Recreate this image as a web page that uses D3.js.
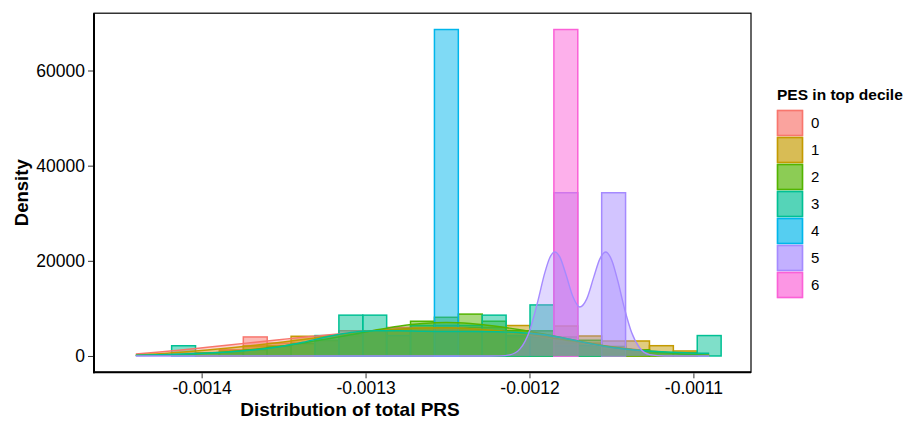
<!DOCTYPE html>
<html><head><meta charset="utf-8">
<script src="https://cdn.jsdelivr.net/npm/d3@7"></script>
<style>body{margin:0;background:#fff} text{font-family:"Liberation Sans",Arial,Helvetica,sans-serif}</style>
</head><body><svg id="chart" width="910" height="421"></svg>
<script>
// ---- data ----
const groups = ["0","1","2","3","4","5","6"];
const colors = ["#F8766D","#C49A00","#53B400","#00C094","#00B6EB","#A58AFF","#FB61D7"];
const binWidth = 0.000014574;
const binCenters = [-0.00144015,-0.00142558,-0.00141100,-0.00139643,-0.00138185,-0.00136728,-0.00135271,
  -0.00133813,-0.00132356,-0.00130898,-0.00129441,-0.00127984,-0.00126526,-0.00125069,-0.00123611,
  -0.00122154,-0.00120697,-0.00119239,-0.00117782,-0.00116324,-0.00114867,-0.00113410,-0.00111952,
  -0.00110495,-0.00109037];
// histogram densities per bin
const hist0 = [0,0,0,0,1300,4000,2700,2700,4000,5300,5300,6000,5300,5300,5300,5300,4000,4000,2700,2700,1300,1300,0,0,0];
const hist1 = [0,0,0,650,1050,2100,2100,4140,3150,4200,5250,5600,6000,6000,6000,6000,6400,5250,6300,4200,3150,3150,2160,1050,0];
const hist2 = [0,0,0,650,650,1300,2000,2600,3300,4600,5300,5300,7300,8130,8800,7300,5300,5300,4000,3300,2000,1300,650,650,0];
const hist3 = [0,0,2150,0,0,0,0,0,4290,8580,8580,4290,6430,6430,6430,8580,4290,10730,2150,2150,0,0,0,0,4290];
const hist4 = [0,0,0,0,0,0,0,0,0,0,0,0,0,68615,0,0,0,0,0,0,0,0,0,0,0];
const hist5 = [0,0,0,0,0,0,0,0,0,0,0,0,0,0,0,0,0,0,34308,0,34308,0,0,0,0];
const hist6 = [0,0,0,0,0,0,0,0,0,0,0,0,0,0,0,0,0,0,68615,0,0,0,0,0,0];
// density curves (evaluated at the bin centres)
const dens0 = [420,840,1315,1840,2365,2890,3415,3940,4410,4885,5360,5730,5940,5940,5730,5310,4730,4045,3260,2470,1785,1210,740,370,145];
const dens1 = [210,475,840,1260,1735,2260,2835,3465,4095,4730,5260,5625,5885,5940,5730,5360,4835,4150,3360,2575,1895,1315,840,475,215];
const dens2 = [75,160,315,580,950,1420,2000,2730,3570,4465,5415,6255,6830,7040,6830,6305,5570,4675,3675,2680,1840,1210,740,370,160];
const dens3 = [160,265,425,635,895,1315,1945,2890,4045,4940,5310,5310,5205,5150,5150,5100,4945,4520,3675,2625,1735,1210,895,685,580];
// group 5 density (bimodal) on its own grid
const dens5X = [-0.00144015,-0.00122421,-0.00121811,-0.00121201,-0.00120591,-0.00119982,-0.00119494,-0.00119067,
  -0.00118762,-0.00118457,-0.00118152,-0.00117787,-0.00117360,-0.00116933,-0.00116506,-0.00116079,-0.00115713,
  -0.00115348,-0.00114982,-0.00114616,-0.00114189,-0.00113762,-0.00113274,-0.00112665,-0.00111750,-0.00109037];
const dens5 = [0,0,30,240,1440,5430,11470,17460,20650,21870,20820,17280,12550,10290,12010,16570,20360,21870,20120,15830,9770,4860,1670,290,5,0];
const xTicks = [-0.0014,-0.0013,-0.0012,-0.0011];
const xTickLabels = ["-0.0014","-0.0013","-0.0012","-0.0011"];
const yTicks = [0,20000,40000,60000];
const yTickLabels = ["0","20000","40000","60000"];
const xTitle = "Distribution of total PRS";
const yTitle = "Density";
const legendTitle = "PES in top decile";

// ---- layout ----
const svg = d3.select("#chart");
const P = {l:94, r:751, t:13.2, b:372.3};
const hists = [hist0,hist1,hist2,hist3,hist4,hist5,hist6];
const xLo = binCenters[0]-binWidth/2, xHi = binCenters[binCenters.length-1]+binWidth/2;
const xPad = 0.05*(xHi-xLo);
const x = d3.scaleLinear().domain([xLo-xPad, xHi+xPad]).range([P.l, P.r]);
const yMax = d3.max(hists.concat([dens0,dens1,dens2,dens3,dens5]).flat());
const y = d3.scaleLinear().domain([-0.05*yMax, 1.05*yMax]).range([P.b, P.t]);

const plot = svg.append("g");
plot.append("rect").attr("x",P.l).attr("y",P.t).attr("width",P.r-P.l).attr("height",P.b-P.t).attr("fill","#fff");

// histograms
hists.forEach((h,gi)=>{
  plot.append("g").selectAll("rect").data(h.map((v,i)=>({c:binCenters[i],v}))).join("rect")
    .attr("x",d=>x(d.c-binWidth/2)).attr("width",d=>x(d.c+binWidth/2)-x(d.c-binWidth/2))
    .attr("y",d=>y(d.v)).attr("height",d=>y(0)-y(d.v))
    .attr("fill",colors[gi]).attr("fill-opacity",0.5)
    .attr("stroke",colors[gi]).attr("stroke-width",1.5);
});

// densities
const densList = [[binCenters,dens0,0],[binCenters,dens1,1],[binCenters,dens2,2],[binCenters,dens3,3],[dens5X,dens5,5]];
densList.forEach(([xs,ys,gi])=>{
  const pts = xs.map((v,i)=>[v,ys[i]]);
  const area = d3.area().x(d=>x(d[0])).y0(y(0)).y1(d=>y(d[1])).curve(d3.curveMonotoneX);
  const line = d3.line().x(d=>x(d[0])).y(d=>y(d[1])).curve(d3.curveMonotoneX);
  plot.append("path").attr("d",area(pts)).attr("fill",colors[gi]).attr("fill-opacity",0.33).attr("stroke","none");
  plot.append("path").attr("d",line(pts)).attr("fill","none").attr("stroke",colors[gi]).attr("stroke-width",1.4);
});

// panel border
svg.append("rect").attr("x",P.l).attr("y",P.t).attr("width",P.r-P.l).attr("height",P.b-P.t)
  .attr("fill","none").attr("stroke","#000").attr("stroke-width",1.2);
svg.append("line").attr("x1",P.l).attr("x2",P.l).attr("y1",P.t).attr("y2",P.b+1).attr("stroke","#000").attr("stroke-width",2);
svg.append("line").attr("x1",P.l-1).attr("x2",P.r).attr("y1",P.b).attr("y2",P.b).attr("stroke","#000").attr("stroke-width",2);

// axes
const xAxis = d3.axisBottom(x).tickValues(xTicks).tickFormat((d,i)=>xTickLabels[i]).tickSize(5).tickPadding(3);
const gx = svg.append("g").attr("transform",`translate(0,${P.b+1})`).call(xAxis);
gx.select(".domain").remove();
gx.selectAll("line").attr("stroke","#333");
gx.selectAll("text").attr("font-size",17.5).attr("fill","#000").attr("font-family","Liberation Sans, Arial, sans-serif");
const yAxis = d3.axisLeft(y).tickValues(yTicks).tickFormat((d,i)=>yTickLabels[i]).tickSize(5).tickPadding(3);
const gy = svg.append("g").attr("transform",`translate(${P.l-1},0)`).call(yAxis);
gy.select(".domain").remove();
gy.selectAll("line").attr("stroke","#333");
gy.selectAll("text").attr("font-size",17.5).attr("fill","#000").attr("font-family","Liberation Sans, Arial, sans-serif");

svg.append("text").attr("x",350).attr("y",416).attr("text-anchor","middle")
  .attr("font-size",19).attr("font-weight","bold").text(xTitle);
svg.append("text").attr("transform",`translate(28,${(P.t+P.b)/2}) rotate(-90)`).attr("text-anchor","middle")
  .attr("font-size",18.5).attr("font-weight","bold").text(yTitle);

// legend
const lg = svg.append("g");
lg.append("text").attr("x",777).attr("y",100).attr("font-size",15.5).attr("font-weight","bold").text(legendTitle);
groups.forEach((g,i)=>{
  const ky = 110.5 + i*27;
  lg.append("rect").attr("x",777.5).attr("y",ky).attr("width",25).attr("height",25)
    .attr("fill",colors[i]).attr("fill-opacity",0.5).attr("stroke",colors[i]).attr("stroke-width",1.5);
  lg.append("rect").attr("x",777.5).attr("y",ky).attr("width",25).attr("height",25)
    .attr("fill",colors[i]).attr("fill-opacity",0.33).attr("stroke",colors[i]).attr("stroke-width",1.2);
  lg.append("text").attr("x",811).attr("y",ky+12.5).attr("dy","0.36em").attr("font-size",15).text(g);
});
</script></body></html>
